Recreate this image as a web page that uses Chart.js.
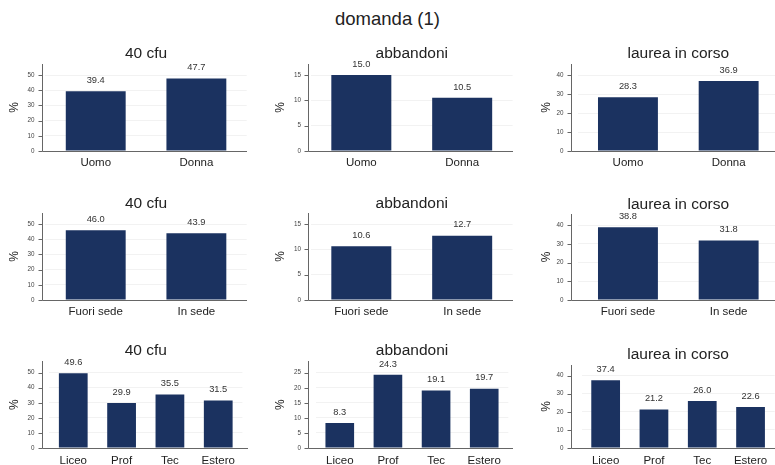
<!DOCTYPE html>
<html><head><meta charset="utf-8">
<script src="https://cdn.jsdelivr.net/npm/chart.js@4/dist/chart.umd.min.js"></script>
<style>
html,body{margin:0;padding:0;background:#fff;width:775px;height:465px;overflow:hidden;position:relative;font-family:"Liberation Sans",Arial,sans-serif;}
#main{position:absolute;left:0;width:775px;top:8px;text-align:center;font-size:18.5px;color:#222;line-height:22px;}
canvas{position:absolute;}
</style></head><body>
<div id="main"></div>
<script>
// ---- data ----
const mainTitle = 'domanda (1)';
const panelTitles = ['40 cfu', 'abbandoni', 'laurea in corso'];
const yAxisLabel = '%';

const catSesso = ['Uomo', 'Donna'];
const catSede = ['Fuori sede', 'In sede'];
const catScuola = ['Liceo', 'Prof', 'Tec', 'Estero'];

const cfuSesso = [39.4, 47.7];
const abbSesso = [15.0, 10.5];
const laureaSesso = [28.3, 36.9];

const cfuSede = [46.0, 43.9];
const abbSede = [10.6, 12.7];
const laureaSede = [38.8, 31.8];

const cfuScuola = [49.6, 29.9, 35.5, 31.5];
const abbScuola = [8.3, 24.3, 19.1, 19.7];
const laureaScuola = [37.4, 21.2, 26.0, 22.6];

const topTickRow12 = [50, 15, 40];
const topTickRow3 = [50, 25, 40];
const tickSteps = [10, 5, 10];

// ---- layout (page pixels) ----
const rowGeo = [
  {tc: 54, top: 64, bottom: 151, xpad: 5},
  {tc: 203.5, top: 212.5, bottom: 299.5, xpad: 4.5},
  {tc: 351, top: 361.5, bottom: 448.5, xpad: 6}
];
const colGeo = [
  {cx: 0, cw: 258, pct: 15, axisL: 41.5, two: {l: 45.4, r: 246.7, ar: 247}, four: {l: 49.1, r: 242.4, ar: 248}},
  {cx: 262, cw: 262, pct: 281, axisL: 308, two: {l: 310.9, r: 512.6, ar: 513}, four: {l: 315.7, r: 508.3, ar: 513}},
  {cx: 526, cw: 264, pct: 547, axisL: 570.5, two: {l: 577.6, r: 779, ar: 779}, four: {l: 581.5, r: 774.7, ar: 778}}
];
const FONT = "'Liberation Sans', Arial, sans-serif";
const BAR = '#1b3260';
const TITLE_FS = 15.5;
const PCT_FS = 12;

document.getElementById('main').textContent = mainTitle;
Chart.defaults.font.family = FONT;

const rows = [
  {cats: catSesso, series: [cfuSesso, abbSesso, laureaSesso], tops: topTickRow12},
  {cats: catSede, series: [cfuSede, abbSede, laureaSede], tops: topTickRow12},
  {cats: catScuola, series: [cfuScuola, abbScuola, laureaScuola], tops: topTickRow3}
];

const axesExtra = {
  id: 'axesExtra',
  afterDatasetsDraw(chart, args, o) {
    const ctx = chart.ctx;
    const y = chart.scales.y;
    const ca = chart.chartArea;
    const ax = Math.round(ca.left - o.padL) + 0.5;
    const axR = ca.right + o.padR;
    const yb = Math.round(y.bottom) + 0.5;
    ctx.save();
    ctx.strokeStyle = '#666';
    ctx.lineWidth = 1;
    ctx.beginPath();
    ctx.moveTo(ax, Math.round(y.top));
    ctx.lineTo(ax, yb);
    ctx.lineTo(axR, yb);
    y.ticks.forEach(t => {
      const py = Math.round(y.getPixelForValue(t.value)) + 0.5;
      ctx.moveTo(ax - 4, py);
      ctx.lineTo(ax, py);
    });
    ctx.stroke();
    // value labels
    ctx.fillStyle = '#333';
    ctx.font = '9.3px ' + FONT;
    ctx.textAlign = 'center';
    ctx.textBaseline = 'middle';
    const meta = chart.getDatasetMeta(0);
    const data = chart.data.datasets[0].data;
    meta.data.forEach((bar, i) => {
      ctx.fillText(data[i].toFixed(1), bar.x, bar.y - 10.8);
    });
    ctx.restore();
  }
};

rows.forEach((row, r) => {
  const rg = rowGeo[r];
  row.series.forEach((vals, c) => {
    const cg = colGeo[c];
    const g = row.cats.length === 2 ? cg.two : cg.four;
    const cy = rg.tc - TITLE_FS / 2;
    const ch = rg.bottom + 22 - cy;
    const scaleLeft = cg.pct - PCT_FS / 2;
    const pL = scaleLeft - cg.cx;
    const yW = g.l - scaleLeft;
    const pR = cg.cx + cg.cw - g.r;
    const titlePadB = rg.top - rg.tc - TITLE_FS / 2;
    const topTick = row.tops[c];
    const yMax = topTick * 87 / 75.7;

    const cv = document.createElement('canvas');
    cv.width = cg.cw; cv.height = Math.round(ch);
    cv.style.left = cg.cx + 'px';
    cv.style.top = cy + 'px';
    cv.style.width = cg.cw + 'px';
    cv.style.height = Math.round(ch) + 'px';
    document.body.appendChild(cv);

    new Chart(cv, {
      type: 'bar',
      data: {
        labels: row.cats,
        datasets: [{data: vals, backgroundColor: BAR, borderWidth: 0,
          barPercentage: 0.595, categoryPercentage: 1}]
      },
      plugins: [axesExtra],
      options: {
        responsive: false,
        devicePixelRatio: 1,
        animation: false,
        layout: {padding: {left: pL, right: pR, top: 0, bottom: 0}},
        plugins: {
          legend: {display: false},
          tooltip: {enabled: false},
          title: {display: true, text: panelTitles[c], fullSize: false, color: '#222',
            font: {size: TITLE_FS, weight: 'normal', lineHeight: 1},
            padding: {top: 0, bottom: titlePadB}},
          axesExtra: {padL: g.l - cg.axisL, padR: g.ar - g.r}
        },
        scales: {
          x: {
            type: 'category',
            offset: true,
            grid: {display: false, drawTicks: false},
            border: {display: false},
            ticks: {font: {size: 11.5}, color: '#222', padding: rg.xpad, autoSkip: false, maxRotation: 0, minRotation: 0},
            afterFit: s => { s.height = 22; }
          },
          y: {
            min: 0, max: yMax,
            grid: {display: true, drawTicks: false, color: '#f2f2f2', lineWidth: 1},
            border: {display: false},
            ticks: {stepSize: tickSteps[c], includeBounds: false, font: {size: 6.3}, color: '#444',
              padding: (g.l - cg.axisL) + 7},
            title: {display: true, text: yAxisLabel, color: '#222', font: {size: PCT_FS, lineHeight: 1}, padding: 0},
            afterFit: s => { s.width = yW; }
          }
        }
      }
    });
  });
});
</script>
</body></html>
